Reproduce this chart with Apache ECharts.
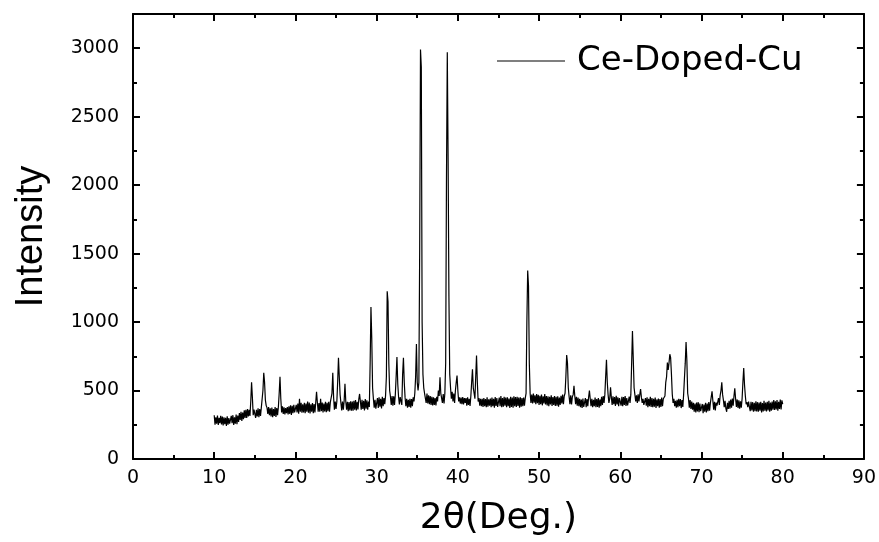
<!DOCTYPE html>
<html>
<head>
<meta charset="utf-8">
<script src="https://cdn.jsdelivr.net/npm/echarts@6/dist/echarts.min.js"></script>
<style>html,body{margin:0;padding:0;background:#fff;}#chart{width:879px;height:542px;}</style>
</head>
<body>
<div id="chart"></div>
<script>
// XRD scan: 2-theta from 10.0 to 80.0 in 0.1 degree steps
var scanStart = 10.0;
var scanStep = 0.1;
var seriesName = 'Ce-Doped-Cu';
var xTicks = [0, 10, 20, 30, 40, 50, 60, 70, 80, 90];
var yTicks = [0, 500, 1000, 1500, 2000, 2500, 3000];
var intensity = [
320,250,305,258,318,248,300,262,315,252,
310,245,305,255,300,242,312,250,298,258,
250,315,262,320,248,305,258,325,255,318,
270,335,285,345,278,340,290,355,300,360,
300,365,310,360,315,420,560,450,320,360,
365,300,360,310,370,305,365,315,375,380,
500,630,560,430,390,375,330,380,320,370,
310,375,305,365,315,380,308,372,320,380,
480,600,440,340,385,330,378,325,372,335,
380,325,385,330,392,322,388,335,395,340,
335,395,340,405,330,440,345,410,338,400,
340,410,335,405,345,420,338,412,332,400,
345,408,335,402,340,412,490,415,345,408,
345,440,350,412,340,405,348,418,342,410,
350,418,345,415,420,480,630,450,360,420,
365,420,560,740,600,470,410,355,420,360,
425,550,420,360,418,350,415,355,422,352,
420,352,425,360,430,355,418,362,435,475,
420,360,432,365,425,355,438,368,428,360,
420,380,700,1110,880,520,440,375,432,368,
378,445,372,450,382,440,370,455,385,445,
400,465,600,1225,1150,700,500,455,395,460,
390,458,395,470,600,745,550,455,398,452,
450,395,620,740,560,450,385,440,375,432,
380,440,375,438,385,450,420,480,600,840,
560,500,560,1520,2990,2860,1000,620,520,480,
470,410,478,405,465,400,460,395,455,392,
450,395,445,392,455,420,500,460,596,480,
470,410,475,405,480,700,2060,2970,2195,1190,
620,520,440,490,420,478,410,500,560,610,
500,420,450,405,448,400,452,398,445,410,
445,390,450,395,440,388,460,560,656,520,
480,440,600,755,560,420,445,390,440,385,
440,380,445,385,438,378,450,382,435,390,
442,378,448,385,440,375,452,388,445,380,
380,448,385,460,378,445,382,455,390,448,
378,450,385,442,372,455,380,448,375,458,
385,452,380,455,388,448,375,450,382,445,
385,448,390,445,480,1010,1376,1263,700,480,
410,470,405,478,412,465,400,475,408,468,
395,462,400,470,392,458,405,475,398,460,
392,458,385,455,398,465,388,452,395,460,
388,455,390,458,382,448,395,462,405,470,
400,460,480,600,760,700,520,455,400,465,
398,455,470,535,460,400,455,390,448,385,
440,378,435,372,442,380,375,445,378,438,
385,450,500,440,385,440,378,432,385,448,
378,438,380,445,375,435,385,455,395,460,
410,470,600,725,560,470,410,440,523,450,
395,458,400,452,388,462,398,450,385,445,
450,390,455,385,452,395,460,388,445,392,
400,455,410,470,700,935,730,520,470,420,
465,410,472,420,470,511,450,410,440,395,
385,445,390,450,378,440,385,455,380,445,
378,440,382,448,372,435,385,442,375,438,
380,448,385,440,440,460,560,600,705,650,
700,765,740,620,475,410,440,385,425,375,
432,378,440,385,438,372,430,380,470,590,
700,855,720,480,440,375,430,365,420,360,
410,345,405,340,412,348,415,342,405,350,
340,402,335,398,345,410,340,405,350,415,
352,412,420,494,425,360,418,355,412,390,
380,445,395,465,500,560,470,430,378,425,
370,345,410,365,425,368,435,375,442,390,
460,516,440,380,435,372,428,368,422,375,
440,560,664,540,460,400,415,378,420,380,
350,418,355,415,345,410,350,422,348,415,
345,412,352,418,340,408,348,425,352,412,
348,418,355,425,345,412,352,420,360,430,
358,422,362,430,352,418,365,435,362,428,
400
];

var points = intensity.map(function (v, i) {
  return [Math.round((scanStart + i * scanStep) * 10) / 10, v];
});

var chart = echarts.init(document.getElementById('chart'), null, {renderer: 'canvas'});
var axisLine = {show: true, onZero: false, lineStyle: {color: '#000', width: 2}};
var tickFont = {color: '#000', fontFamily: 'DejaVu Sans', fontSize: 19};
function xAx(pos, showLabel) {
  return {
    type: 'value', position: pos, min: xTicks[0], max: xTicks[xTicks.length - 1], interval: 10,
    axisLine: axisLine,
    axisTick: {show: true, inside: true, length: 7, lineStyle: {color: '#000', width: 2}},
    minorTick: {show: true, splitNumber: 2, length: 4, lineStyle: {color: '#000', width: 2}},
    splitLine: {show: false}, minorSplitLine: {show: false},
    axisLabel: Object.assign({show: showLabel, margin: 10, formatter: function (v) { return String(v); }}, tickFont),
    name: showLabel ? '2\u03b8(Deg.)' : '', nameLocation: 'middle', nameGap: 42,
    nameTextStyle: {color: '#000', fontFamily: 'DejaVu Sans', fontSize: 36}
  };
}
function yAx(pos, showLabel) {
  return {
    type: 'value', position: pos, min: yTicks[0], max: 3250, interval: 500,
    axisLine: axisLine,
    axisTick: {show: true, inside: true, length: 7, lineStyle: {color: '#000', width: 2}},
    minorTick: {show: true, splitNumber: 2, length: 4, lineStyle: {color: '#000', width: 2}},
    splitLine: {show: false}, minorSplitLine: {show: false},
    axisLabel: Object.assign({show: showLabel, margin: 14, showMaxLabel: false,
      formatter: function (v) { return v % 500 === 0 ? String(v) : ''; }}, tickFont),
    name: showLabel ? 'Intensity' : '', nameLocation: 'middle', nameGap: 82, nameRotate: 90,
    nameTextStyle: {color: '#000', fontFamily: 'Liberation Sans', fontSize: 38}
  };
}
chart.setOption({
  backgroundColor: '#fff',
  animation: false,
  grid: {left: 133, right: 14, top: 14, bottom: 78, containLabel: false},
  legend: {
    show: true, left: 497, top: 44, padding: 0, icon: 'rect', itemWidth: 68, itemHeight: 1,
    data: [seriesName],
    textStyle: {color: '#000', fontFamily: 'DejaVu Sans', fontSize: 34, padding: [0, 0, 0, 7]}
  },
  xAxis: [xAx('bottom', true), xAx('top', false)],
  yAxis: [yAx('left', true), yAx('right', false)],
  series: [{
    name: seriesName, type: 'line', xAxisIndex: 0, yAxisIndex: 0,
    data: points, symbol: 'none', showSymbol: false,
    lineStyle: {color: '#000', width: 1.2}, itemStyle: {color: '#000'}
  }]
});
</script>
</body>
</html>
